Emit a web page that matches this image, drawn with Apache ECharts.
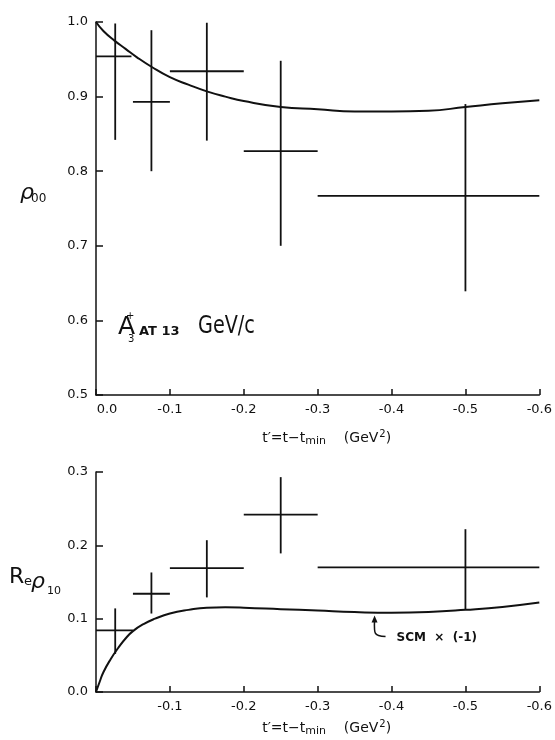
<!DOCTYPE html>
<html>
<head>
<meta charset="utf-8">
<script src="https://cdn.jsdelivr.net/npm/echarts@6/dist/echarts.min.js"></script>
<style>
  html, body { margin: 0; padding: 0; background: #fff; }
  #chart { width: 555px; height: 740px; }
</style>
</head>
<body>
<div id="chart"></div>
<script>
// t' = t - t_min bins (GeV^2): centre of each point and the horizontal extent of its bin
const tCentre   = [-0.026, -0.075, -0.15, -0.25, -0.5];
const tBinStart = [0, -0.05, -0.1, -0.2, -0.3];
const tBinEnd   = [-0.048, -0.1, -0.2, -0.3, -0.6];

// rho_00 measurements and their error ranges
const rho00    = [0.954, 0.893, 0.934, 0.827, 0.767];
const rho00Lo  = [0.842, 0.800, 0.841, 0.700, 0.639];
const rho00Hi  = [0.998, 0.989, 0.999, 0.948, 0.890];

// Re rho_10 measurements and their error ranges
const reRho10   = [0.084, 0.134, 0.169, 0.242, 0.170];
const reRho10Lo = [0.052, 0.107, 0.129, 0.189, 0.113];
const reRho10Hi = [0.114, 0.163, 0.207, 0.293, 0.222];
const reBinEnd  = [-0.05, -0.1, -0.2, -0.3, -0.6];

// SCM prediction for rho_00
const rho00CurveT = [0, -0.01, -0.025, -0.04, -0.055, -0.075, -0.1, -0.125, -0.15, -0.175, -0.2, -0.25, -0.3, -0.35, -0.4, -0.45, -0.5, -0.55, -0.6];
const rho00Curve  = [1.0, 0.988, 0.975, 0.964, 0.953, 0.940, 0.926, 0.916, 0.907, 0.900, 0.894, 0.886, 0.883, 0.880, 0.880, 0.881, 0.886, 0.891, 0.895];

// SCM x (-1) prediction for Re rho_10
const reCurveT = [0, -0.005, -0.01, -0.02, -0.03, -0.04, -0.05, -0.065, -0.08, -0.1, -0.125, -0.15, -0.175, -0.2, -0.25, -0.3, -0.35, -0.4, -0.45, -0.5, -0.55, -0.6];
const reCurve  = [0, 0.014, 0.027, 0.045, 0.060, 0.073, 0.083, 0.093, 0.100, 0.107, 0.112, 0.115, 0.1155, 0.115, 0.113, 0.111, 0.109, 0.108, 0.109, 0.112, 0.116, 0.122];

// Axis ticks
const xTicks = [0, -0.1, -0.2, -0.3, -0.4, -0.5, -0.6];
const rho00Ticks = [0.5, 0.6, 0.7, 0.8, 0.9, 1.0];
const reTicks = [0.0, 0.1, 0.2, 0.3];

const INK = '#111';
const FONT = 'DejaVu Sans';

function pairs(xs, ys) { return xs.map((x, i) => [x, ys[i]]); }

function crossItem(params, api) {
  const c = api.value(0), v = api.value(1);
  const a = api.coord([api.value(2), v]);
  const b = api.coord([api.value(3), v]);
  const lo = api.coord([c, api.value(4)]);
  const hi = api.coord([c, api.value(5)]);
  const st = { stroke: INK, lineWidth: 1.8, fill: null };
  return {
    type: 'group',
    children: [
      { type: 'line', shape: { x1: a[0], y1: a[1], x2: b[0], y2: b[1] }, style: st },
      { type: 'line', shape: { x1: lo[0], y1: lo[1], x2: hi[0], y2: hi[1] }, style: st }
    ]
  };
}

function xAxisCfg(gridIndex, showZero, nameGap) {
  return {
    type: 'value', gridIndex, inverse: true, min: -0.6, max: 0, interval: 0.1,
    axisLine: { show: true, lineStyle: { color: INK, width: 1.5 } },
    axisTick: { show: true, inside: true, length: 6, lineStyle: { color: INK, width: 1.5 } },
    splitLine: { show: false },
    axisLabel: {
      color: INK, fontFamily: FONT, fontSize: 13, margin: 8,
      formatter: v => {
        const k = xTicks.findIndex(t => Math.abs(t - v) < 1e-6);
        if (k < 0) return '';
        if (k === 0) return showZero ? '{z|0.0}' : '';
        return xTicks[k].toFixed(1);
      },
      rich: { z: { fontFamily: FONT, fontSize: 13, color: INK, padding: [0, 0, 0, 22] } }
    },
    name: '{a|t\u2032=t\u2212t}{s|min}{a|    (GeV}{p|2}{a|)}',
    nameLocation: 'middle', nameGap,
    nameTextStyle: {
      padding: [0, 0, 0, 18],
      rich: {
        a: { fontFamily: FONT, fontSize: 14, color: INK },
        s: { fontFamily: FONT, fontSize: 11, color: INK, padding: [7, 0, 0, 0] },
        p: { fontFamily: FONT, fontSize: 10, color: INK, padding: [0, 0, 8, 1] }
      }
    }
  };
}

function yAxisCfg(gridIndex, min, max, ticks) {
  return {
    type: 'value', gridIndex, min, max, interval: 0.1,
    axisLine: { show: true, lineStyle: { color: INK, width: 1.5 } },
    axisTick: { show: true, inside: true, length: 7, lineStyle: { color: INK, width: 1.5 } },
    splitLine: { show: false },
    axisLabel: {
      color: INK, fontFamily: FONT, fontSize: 13, margin: 8,
      formatter: v => {
        const k = ticks.findIndex(t => Math.abs(t - v) < 1e-6);
        return k < 0 ? '' : ticks[k].toFixed(1);
      }
    }
  };
}

const chart = echarts.init(document.getElementById('chart'), null, { renderer: 'canvas' });

const curveStyle = {
  type: 'line', smooth: 0.5,
  showSymbol: false, symbol: 'none',
  lineStyle: { color: INK, width: 2 }
};

const option = {
  backgroundColor: '#fff',
  animation: false,
  grid: [
    { left: 96, right: 11, top: 22, height: 373 },
    { left: 96, right: 12, top: 472, height: 220 }
  ],
  xAxis: [xAxisCfg(0, true, 34), xAxisCfg(1, false, 27)],
  yAxis: [yAxisCfg(0, 0.5, 1.0, rho00Ticks), yAxisCfg(1, 0, 0.3, reTicks)],
  series: [
    Object.assign({}, curveStyle, {
      xAxisIndex: 0, yAxisIndex: 0,
      data: pairs(rho00CurveT, rho00Curve)
    }),
    {
      type: 'custom', xAxisIndex: 0, yAxisIndex: 0,
      renderItem: crossItem, clip: false,
      encode: { x: [0, 2, 3], y: [1, 4, 5] },
      data: tCentre.map((t, i) => [t, rho00[i], tBinStart[i], tBinEnd[i], rho00Lo[i], rho00Hi[i]])
    },
    Object.assign({}, curveStyle, {
      xAxisIndex: 1, yAxisIndex: 1,
      data: pairs(reCurveT, reCurve)
    }),
    {
      type: 'custom', xAxisIndex: 1, yAxisIndex: 1,
      renderItem: crossItem, clip: false,
      encode: { x: [0, 2, 3], y: [1, 4, 5] },
      data: tCentre.map((t, i) => [t, reRho10[i], tBinStart[i], reBinEnd[i], reRho10Lo[i], reRho10Hi[i]])
    }
  ]
};
chart.setOption(option);

// Text annotations: axis titles, reaction label and the curve pointer
const txt = (x, y, text, size, extra, scaleX) => ({
  type: 'text', x, y, scaleX: scaleX || 1,
  style: Object.assign({ text, fontFamily: FONT, fontSize: size, fill: INK, textVerticalAlign: 'middle' }, extra || {})
});

const tip = chart.convertToPixel({ xAxisIndex: 1, yAxisIndex: 1 }, [-0.377, 0.107]);
const tx = tip[0], ty = tip[1] + 2;

chart.setOption({
  graphic: [
    // rho_00 axis title
    txt(20, 193, '\u03c1', 22, { fontStyle: 'italic' }),
    txt(31, 199, '00', 12),
    // Re rho_10 axis title
    txt(9, 577, 'R', 22),
    txt(24, 582, 'e', 13),
    txt(31, 582, '\u03c1', 22, { fontStyle: 'italic' }),
    txt(47, 591, '10', 11),
    // reaction label
    txt(118, 327, 'A', 25),
    txt(126, 316, '+', 10),
    txt(128, 339, '3', 10),
    txt(139, 332, 'AT 13', 13, { fontWeight: 'bold' }),
    txt(198, 327, 'GeV/c', 24, {}, 0.8),
    // pointer to the SCM curve
    {
      type: 'polyline',
      shape: { points: [[tx, ty + 4], [tx, ty + 14], [tx + 1, ty + 18], [tx + 4, ty + 20], [tx + 11, ty + 21]], smooth: 0.4 },
      style: { stroke: INK, lineWidth: 1.5, fill: null }
    },
    {
      type: 'polygon',
      shape: { points: [[tx, ty], [tx - 3, ty + 7], [tx + 3, ty + 7]] },
      style: { fill: INK }
    },
    txt(tx + 22, ty + 22, 'SCM  \u00d7  (-1)', 12, { fontWeight: 'bold' })
  ]
});
</script>
</body>
</html>
